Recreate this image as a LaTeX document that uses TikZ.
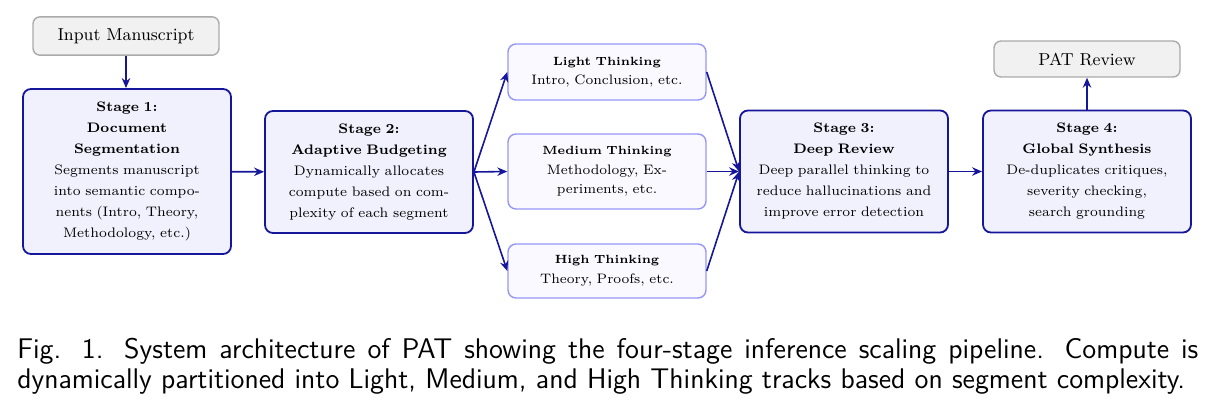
\documentclass[tikz,border=0pt]{standalone}
\usepackage{fontspec}
\usetikzlibrary{arrows.meta}
\definecolor{navy}{RGB}{22,22,155}
\definecolor{stagefill}{RGB}{241,241,253}
\definecolor{thinkdraw}{RGB}{150,150,250}
\definecolor{thinkfill}{RGB}{249,249,255}
\definecolor{iodraw}{RGB}{170,170,170}
\definecolor{iofill}{RGB}{241,241,241}
\newcommand\iofont{\fontsize{8.65}{10}\selectfont}
\newcommand\stagefont{\fontsize{6.9}{10.5}\selectfont}
\newcommand\thinkfont{\fontsize{6.85}{9.75}\selectfont}
\newcommand\thinktitle{\fontsize{5.95}{9.75}\selectfont\bfseries}
\newcommand\capfont{\sffamily\fontsize{14.2}{15}\selectfont}
\tikzset{
  arr/.style={-{Stealth[length=5pt,width=4.2pt]}, draw=navy, line width=0.8pt},
  iobox/.style={draw=iodraw, fill=iofill, line width=0.7pt, rounded corners=3.5pt,
    minimum width=93pt, inner ysep=5.8pt, font=\iofont},
  stagebox/.style={draw=navy, fill=stagefill, line width=0.9pt, rounded corners=4pt,
    text width=96pt, align=center, inner xsep=4pt, inner ysep=3pt,
    minimum height=61pt, font=\stagefont},
  thinkbox/.style={draw=thinkdraw, fill=thinkfill, line width=0.7pt, rounded corners=4pt,
    text width=91pt, align=center, inner xsep=4pt, inner ysep=2pt, font=\thinkfont}
}
\begin{document}
\begin{tikzpicture}[x=0.5pt,y=-0.5pt]
\useasboundingbox (0,0) rectangle (1214,413);
\node[iobox] (in) at (126,36) {Input Manuscript};
\node[stagebox, minimum height=82.5pt] (s1) at (127,171.5)
  {\textbf{Stage 1:}\\\textbf{Document}\\\textbf{Segmentation}\\Segments manuscript\\into semantic compo-\\nents (Intro, Theory,\\Methodology, etc.)};
\node[stagebox] (s2) at (369,172)
  {\textbf{Stage 2:}\\\textbf{Adaptive Budgeting}\\Dynamically allocates\\compute based on com-\\plexity of each segment};
\node[thinkbox, minimum height=28pt] (lt) at (607,72)
  {{\thinktitle Light Thinking}\\Intro, Conclusion, etc.};
\node[thinkbox, minimum height=37.5pt] (mt) at (607,171.5)
  {{\thinktitle Medium Thinking}\\Methodology, Ex-\\periments, etc.};
\node[thinkbox, minimum height=27pt] (ht) at (607,271)
  {{\thinktitle High Thinking}\\Theory, Proofs, etc.};
\node[stagebox] (s3) at (844,171.5)
  {\textbf{Stage 3:}\\\textbf{Deep Review}\\Deep parallel thinking to\\reduce hallucinations and\\improve error detection};
\node[stagebox] (s4) at (1087,171.5)
  {\textbf{Stage 4:}\\\textbf{Global Synthesis}\\De-duplicates critiques,\\severity checking,\\search grounding};
\node[iobox] (pat) at (1087,59) {PAT Review};
\node[anchor=north west, inner sep=0pt, text width=590.5pt, align=justify, font=\capfont] (cap) at (17,338)
  {Fig. 1. System architecture of PAT showing the four-stage inference scaling pipeline. Compute is\linebreak dynamically partitioned into Light, Medium, and High Thinking tracks based on segment complexity.};
\draw[arr] (in.south) -- (in.south |- s1.north);
\draw[arr] (s1) -- (s2);
\draw[arr] (s2.east) -- (lt.west);
\draw[arr] (s2.east) -- (mt.west);
\draw[arr] (s2.east) -- (ht.west);
\draw[arr] (lt.east) -- (s3.west);
\draw[arr] (mt.east) -- (s3.west);
\draw[arr] (ht.east) -- (s3.west);
\draw[arr] (s3) -- (s4);
\draw[arr] (s4.north) -- (pat.south);
\end{tikzpicture}
\end{document}
